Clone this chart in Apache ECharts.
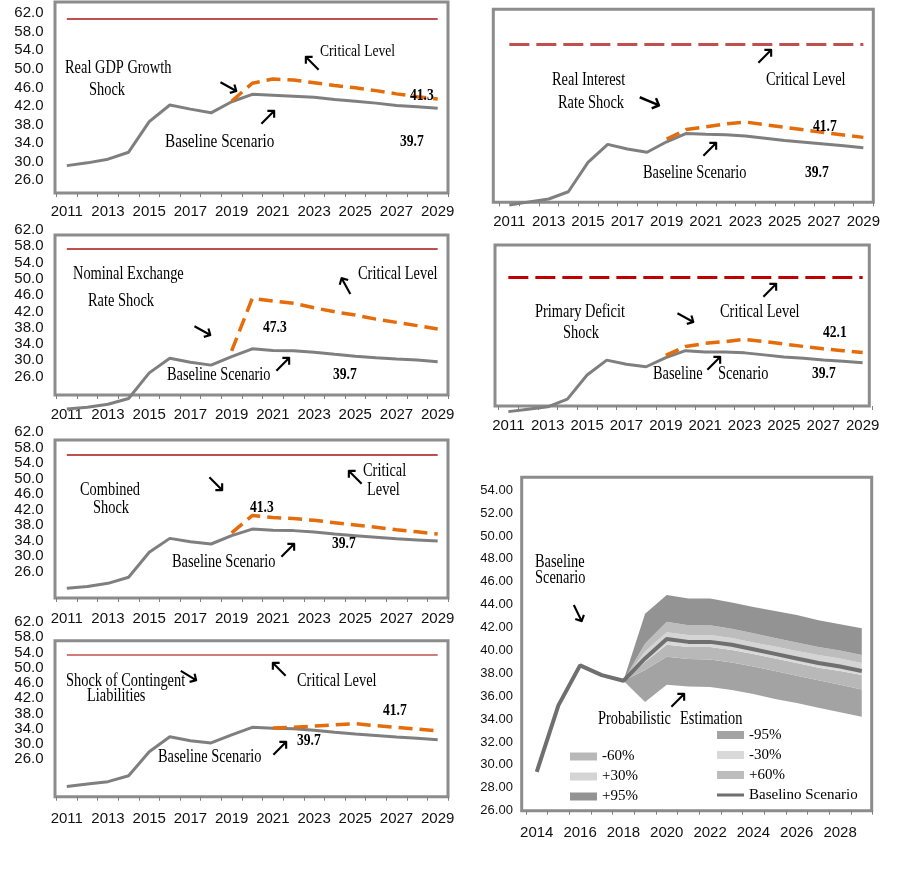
<!DOCTYPE html>
<html><head><meta charset="utf-8">
<script src="https://cdn.jsdelivr.net/npm/echarts@6/dist/echarts.min.js"></script>
<style>html,body{margin:0;padding:0;background:#fff}#c{width:901px;height:891px}</style>
</head><body><div id="c"></div>
<script>
// ---------------- DATA ----------------
const yearsA = ['2011','2012','2013','2014','2015','2016','2017','2018','2019','2020','2021','2022','2023','2024','2025','2026','2027','2028','2029'];
const yearsFan = ['2014','2015','2016','2017','2018','2019','2020','2021','2022','2023','2024','2025','2026','2027','2028','2029'];
const yTickLabels = [26, 30, 34, 38, 42, 46, 50, 54, 58, 62];
const yTickLabelsFan = [26, 28, 30, 32, 34, 36, 38, 40, 42, 44, 46, 48, 50, 52, 54];

// Real GDP growth shock
const gdpBaseline = [29.1, 29.7, 30.5, 32.0, 38.6, 42.2, 41.3, 40.5, 42.9, 44.5, 44.3, 44.1, 43.85, 43.4, 43.0, 42.6, 42.1, 41.8, 41.5];
const gdpShock = ['-', '-', '-', '-', '-', '-', '-', '-', 43.0, 46.9, 47.8, 47.6, 47.0, 46.4, 45.9, 45.3, 44.6, 44.0, 43.5];
const gdpCritical = 60.9;

// Real interest rate shock
const intBaseline = [17.4, 18.1, 18.75, 20.4, 27.1, 31.2, 30.15, 29.4, 31.8, 33.7, 33.5, 33.4, 33.1, 32.6, 32.1, 31.7, 31.3, 30.9, 30.45];
const intShock = ['-', '-', '-', '-', '-', '-', '-', '-', 32.4, 34.6, 35.2, 35.85, 36.3, 35.7, 35.1, 34.5, 33.9, 33.35, 32.8];
const intCritical = 54.0;

// Nominal exchange rate shock
const exBaseline = [18.0, 18.45, 19.2, 20.6, 26.9, 30.5, 29.5, 28.8, 30.9, 32.8, 32.4, 32.35, 31.95, 31.45, 31.0, 30.6, 30.3, 30.05, 29.6];
const exShock = ['-', '-', '-', '-', '-', '-', '-', '-', 32.3, 45.2, 44.55, 44.0, 42.9, 41.9, 41.1, 40.1, 39.3, 38.5, 37.7];
const exCritical = 57.5;

// Primary deficit shock
const defBaseline = [16.6, 17.2, 17.8, 19.7, 25.7, 29.4, 28.35, 27.75, 30.0, 31.75, 31.4, 31.4, 31.2, 30.7, 30.2, 29.85, 29.4, 29.1, 28.75];
const defShock = ['-', '-', '-', '-', '-', '-', '-', '-', 30.6, 32.8, 33.55, 34.0, 34.55, 34.0, 33.4, 32.8, 32.2, 31.75, 31.3];
const defCritical = 50.0;

// Combined shock
const comBaseline = [21.7, 22.2, 23.0, 24.55, 31.0, 34.6, 33.75, 33.15, 35.3, 37.0, 36.7, 36.6, 36.25, 35.7, 35.3, 34.9, 34.5, 34.2, 33.9];
const comShock = ['-', '-', '-', '-', '-', '-', '-', '-', 36.0, 40.5, 40.0, 39.7, 39.25, 38.65, 38.05, 37.45, 36.85, 36.3, 35.7];
const comCritical = 56.3;

// Shock of contingent liabilities
const conBaseline = [18.8, 19.5, 20.1, 21.65, 27.95, 31.9, 30.85, 30.25, 32.35, 34.35, 34.1, 34.0, 33.6, 33.05, 32.6, 32.2, 31.8, 31.5, 31.1];
const conShock = ['-', '-', '-', '-', '-', '-', '-', '-', '-', '-', 34.2, 34.35, 34.7, 35.0, 35.3, 34.8, 34.35, 33.9, 33.4];
const conCritical = 53.3;

// Probabilistic estimation (fan chart)
const fanBaseline = [29.4, 35.2, 38.7, 37.85, 37.35, 39.3, 41.0, 40.75, 40.75, 40.5, 40.1, 39.7, 39.3, 38.9, 38.6, 38.2];
const fanLower95 = ['-', '-', '-', '-', 37.35, 35.5, 37.0, 36.85, 36.8, 36.55, 36.2, 35.75, 35.4, 35.0, 34.6, 34.2];
const fanLower60 = ['-', '-', '-', '-', 37.35, 38.3, 39.45, 39.25, 39.2, 38.95, 38.6, 38.2, 37.8, 37.4, 37.0, 36.6];
const fanLower30 = ['-', '-', '-', '-', 37.35, 39.0, 40.5, 40.3, 40.3, 40.05, 39.7, 39.3, 38.9, 38.5, 38.2, 37.85];
const fanUpper30 = ['-', '-', '-', '-', 37.35, 39.9, 41.6, 41.35, 41.35, 41.1, 40.7, 40.35, 39.95, 39.6, 39.3, 38.9];
const fanUpper60 = ['-', '-', '-', '-', 37.35, 40.6, 42.5, 42.2, 42.2, 41.9, 41.5, 41.1, 40.7, 40.3, 40.0, 39.6];
const fanUpper95 = ['-', '-', '-', '-', 37.35, 43.2, 44.85, 44.55, 44.55, 44.2, 43.8, 43.45, 43.1, 42.65, 42.3, 41.95];

// ---------------- LAYOUT / STYLE ----------------
const AX_FONT = "'Liberation Sans Narrow','Liberation Sans',Arial,sans-serif";
const SERIF = "'Liberation Serif','Times New Roman',serif";
const ARROW_FONT = "'DejaVu Sans',sans-serif";
const GRAY = '#7f7f7f', ORANGE = '#e46c0a';

const panels = [
  { cats: yearsA, base: gdpBaseline, shock: gdpShock, crit: gdpCritical,
    grid: {left: 56.5, top: 2, width: 391.5, height: 191}, frame: {left: 55, top: 2, width: 393, height: 191},
    yMin: 23.19, yMax: 64.44, labels: yTickLabels, xMargin: 11, critStyle: {color: '#c0504d', width: 2, type: 'solid'} },
  { cats: yearsA, base: intBaseline, shock: intShock, crit: intCritical,
    grid: {left: 499.5, top: 9.3, width: 373.7, height: 193}, frame: {left: 493.3, top: 9.3, width: 380, height: 193},
    yMin: 18, yMax: 62, labels: null, xMargin: 12, critStyle: {color: '#c0504d', width: 3, type: [20, 7]} },
  { cats: yearsA, base: exBaseline, shock: exShock, crit: exCritical,
    grid: {left: 56.5, top: 228, width: 391.5, height: 167}, frame: {left: 55, top: 235, width: 393, height: 160},
    yMin: 21.46, yMax: 62.49, labels: yTickLabels, xMargin: 12, critStyle: {color: '#c0504d', width: 2, type: 'solid'} },
  { cats: yearsA, base: defBaseline, shock: defShock, crit: defCritical,
    grid: {left: 498.5, top: 245, width: 374, height: 161}, frame: {left: 495, top: 245, width: 374.3, height: 161},
    yMin: 18, yMax: 58, labels: null, xMargin: 12, critStyle: {color: '#c00000', width: 3, type: [20, 7]} },
  { cats: yearsA, base: comBaseline, shock: comShock, crit: comCritical,
    grid: {left: 56.5, top: 430, width: 391.5, height: 168}, frame: {left: 55, top: 440, width: 393, height: 158},
    yMin: 19.21, yMax: 62.57, labels: yTickLabels, xMargin: 13, critStyle: {color: '#c0504d', width: 2, type: 'solid'} },
  { cats: yearsA, base: conBaseline, shock: conShock, crit: conCritical,
    grid: {left: 56.5, top: 620, width: 391.5, height: 176.7}, frame: {left: 55, top: 640.7, width: 393, height: 156},
    yMin: 16.15, yMax: 62.52, labels: yTickLabels, xMargin: 15, critStyle: {color: '#c0504d', width: 1.5, type: 'solid'} }
];

const option = {
  backgroundColor: '#fff', animation: false,
  grid: [], xAxis: [], yAxis: [], series: [], legend: [], graphic: {elements: []}
};

function addFrame(f) {
  const gi = option.grid.length;
  option.grid.push(Object.assign({show: true, borderColor: '#8c8c8c', borderWidth: 3, backgroundColor: 'transparent'}, f));
  option.xAxis.push({type: 'value', gridIndex: gi, show: false, min: 0, max: 1});
  option.yAxis.push({type: 'value', gridIndex: gi, show: false, min: 0, max: 1});
}

function addAxes(p, cats, labelFs, dec) {
  const gi = option.grid.length;
  option.grid.push(Object.assign({show: false}, p.grid));
  option.xAxis.push({
    type: 'category', gridIndex: gi, data: cats, boundaryGap: true,
    axisLine: {show: false},
    axisTick: {show: true, interval: 0, length: 4, lineStyle: {color: '#7f7f7f', width: 1}},
    axisLabel: {interval: 1, margin: p.xMargin, color: '#111', fontSize: 15, fontFamily: AX_FONT},
    splitLine: {show: false}
  });
  option.yAxis.push({
    type: 'value', gridIndex: gi, min: p.yMin, max: p.yMax,
    axisLine: {show: false}, axisTick: {show: false}, splitLine: {show: false},
    axisLabel: p.labels ? {show: true, customValues: p.labels, formatter: v => Number(v).toFixed(dec),
      margin: 13, color: '#111', fontSize: labelFs, fontFamily: AX_FONT} : {show: false}
  });
  return gi;
}

panels.forEach(p => {
  addFrame(p.frame);
  const gi = addAxes(p, p.cats, 15, 1);
  option.series.push({
    type: 'line', xAxisIndex: gi, yAxisIndex: gi, data: p.base, symbol: 'none', clip: false, z: 3,
    lineStyle: {color: GRAY, width: 3}, itemStyle: {color: GRAY},
    markLine: {silent: true, symbol: 'none', label: {show: false}, lineStyle: p.critStyle, animation: false,
      data: [[{coord: [p.cats[0], p.crit]}, {coord: [p.cats[p.cats.length - 1], p.crit]}]]}
  });
  option.series.push({
    type: 'line', xAxisIndex: gi, yAxisIndex: gi, data: p.shock, symbol: 'none', clip: false, z: 4,
    lineStyle: {color: ORANGE, width: 3.5, type: [14, 7]}, itemStyle: {color: ORANGE}
  });
});

// Fan chart
const fan = {grid: {left: 525.9, top: 477.3, width: 346.7, height: 333.4}, yMin: 26, yMax: 55.13, labels: yTickLabelsFan, xMargin: 15};
addFrame({left: 521.7, top: 477.3, width: 350, height: 333.4});
const fgi = addAxes(fan, yearsFan, 13, 2);
const diff = (a, b) => a.map((v, i) => (v === '-' || b[i] === '-') ? '-' : +(v - b[i]).toFixed(3));
const bands = [
  {name: '-95%', color: '#a3a3a3', data: diff(fanLower60, fanLower95)},
  {name: '-60%', color: '#b8b8b8', data: diff(fanLower30, fanLower60)},
  {name: '-30%', color: '#d9d9d9', data: diff(fanBaseline, fanLower30)},
  {name: '+30%', color: '#d4d4d4', data: diff(fanUpper30, fanBaseline)},
  {name: '+60%', color: '#bdbdbd', data: diff(fanUpper60, fanUpper30)},
  {name: '+95%', color: '#939393', data: diff(fanUpper95, fanUpper60)}
];
option.series.push({type: 'line', name: 'fanbase', xAxisIndex: fgi, yAxisIndex: fgi, stack: 'fan', data: fanLower95,
  symbol: 'none', lineStyle: {width: 0}, z: 1});
bands.forEach(b => option.series.push({
  type: 'line', name: b.name, xAxisIndex: fgi, yAxisIndex: fgi, stack: 'fan', data: b.data, symbol: 'none', z: 1,
  color: b.color, itemStyle: {color: b.color}, lineStyle: {width: 0}, areaStyle: {color: b.color, opacity: 1}
}));
option.series.push({type: 'line', name: 'Baselino Scenario', xAxisIndex: fgi, yAxisIndex: fgi, data: fanBaseline,
  symbol: 'none', z: 5, color: '#6f6f6f', itemStyle: {color: '#6f6f6f'}, lineStyle: {color: '#6f6f6f', width: 4}});

const legendCommon = {orient: 'vertical', itemWidth: 27, itemHeight: 8, itemGap: 5, padding: 0, selectedMode: false,
  icon: 'rect', itemStyle: {borderWidth: 0},
  textStyle: {fontFamily: SERIF, fontSize: 15, color: '#000', lineHeight: 15}};
option.legend.push(Object.assign({left: 570, top: 749, data: ['-60%', '+30%', '+95%']}, legendCommon));
option.legend.push(Object.assign({left: 717, top: 727.5,
  data: ['-95%', '-30%', '+60%', {name: 'Baselino Scenario', icon: 'path://M0,0H0.05V0.05H0Z M0,2.2H30V5.8H0Z M0,7.95H0.05V8H0Z'}]}, legendCommon));

// Annotations
const notes = [
  // Real GDP growth
  {t: 'Real GDP Growth', x: 65, y: 68}, {t: 'Shock', x: 89, y: 90}, {t: 'Critical Level', x: 320, y: 52, s: 17},
  {t: 'Baseline Scenario', x: 165, y: 142, s: 19}, {t: '41.3', x: 410, y: 96, b: 1}, {t: '39.7', x: 400, y: 142, b: 1},
  {a: '→', x: 228, y: 88, r: -0.5}, {a: '↖', x: 312, y: 64}, {a: '↗', x: 268, y: 118},
  // Real interest rate
  {t: 'Real Interest', x: 552, y: 80}, {t: 'Rate Shock', x: 558, y: 103}, {t: 'Critical Level', x: 766, y: 80},
  {t: '41.7', x: 813, y: 127, b: 1}, {t: 'Baseline Scenario', x: 643, y: 173}, {t: '39.7', x: 805, y: 173, b: 1},
  {a: '→', x: 649, y: 103, r: -0.4, s: 30}, {a: '↗', x: 765, y: 57}, {a: '↗', x: 710, y: 150},
  // Nominal exchange rate
  {t: 'Nominal Exchange', x: 73, y: 274}, {t: 'Rate Shock', x: 88, y: 301}, {t: 'Critical Level', x: 358, y: 274},
  {t: '47.3', x: 263, y: 328, b: 1}, {t: 'Baseline Scenario', x: 167, y: 375}, {t: '39.7', x: 333, y: 375, b: 1},
  {a: '→', x: 202, y: 332, r: -0.5}, {a: '↑', x: 347, y: 288, r: 0.5}, {a: '↗', x: 283, y: 365},
  // Primary deficit
  {t: 'Primary Deficit', x: 535, y: 312}, {t: 'Shock', x: 563, y: 333}, {t: 'Critical Level', x: 720, y: 312},
  {t: '42.1', x: 823, y: 333, b: 1}, {t: 'Baseline', x: 653, y: 374}, {t: 'Scenario', x: 718, y: 374}, {t: '39.7', x: 812, y: 374, b: 1},
  {a: '→', x: 685, y: 319, r: -0.5}, {a: '↗', x: 770, y: 291}, {a: '↗', x: 714, y: 364},
  // Combined
  {t: 'Combined', x: 80, y: 490}, {t: 'Shock', x: 93, y: 508}, {t: 'Critical', x: 363, y: 471}, {t: 'Level', x: 367, y: 490},
  {t: '41.3', x: 250, y: 508, b: 1}, {t: 'Baseline Scenario', x: 172, y: 562}, {t: '39.7', x: 332, y: 544, b: 1},
  {a: '↘', x: 216, y: 485}, {a: '↖', x: 355, y: 478}, {a: '↗', x: 288, y: 551},
  // Contingent liabilities
  {t: 'Shock of Contingent', x: 66, y: 681}, {t: 'Liabilities', x: 87, y: 696}, {t: 'Critical Level', x: 297, y: 681},
  {t: '41.7', x: 383, y: 711, b: 1}, {t: '39.7', x: 297, y: 741, b: 1}, {t: 'Baseline Scenario', x: 158, y: 757},
  {a: '→', x: 188, y: 677, r: -0.55}, {a: '↖', x: 279, y: 670}, {a: '↗', x: 280, y: 749},
  // Fan chart
  {t: 'Baseline', x: 535, y: 562}, {t: 'Scenario', x: 535, y: 578}, {t: 'Probabilistic', x: 598, y: 719}, {t: 'Estimation', x: 680, y: 719},
  {a: '↓', x: 579, y: 616, r: 0.45}, {a: '↗', x: 678, y: 701}
];
notes.forEach(n => {
  if (n.a) {
    option.graphic.elements.push({type: 'text', x: n.x, y: n.y, rotation: n.r || 0, silent: true, z: 50,
      style: {text: n.a, font: (n.s || 26) + 'px ' + ARROW_FONT, fill: '#000', align: 'center', verticalAlign: 'middle'}});
  } else {
    option.graphic.elements.push({type: 'text', x: n.x, y: n.y, scaleX: 0.8, silent: true, z: 50,
      style: {text: n.t, font: (n.b ? 'bold ' : '') + (n.s || (n.b ? 17 : 18)) + 'px ' + SERIF, fill: '#000', align: 'left', verticalAlign: 'middle'}});
  }
});

const chart = echarts.init(document.getElementById('c'), null, {renderer: 'canvas'});
chart.setOption(option);
</script></body></html>
